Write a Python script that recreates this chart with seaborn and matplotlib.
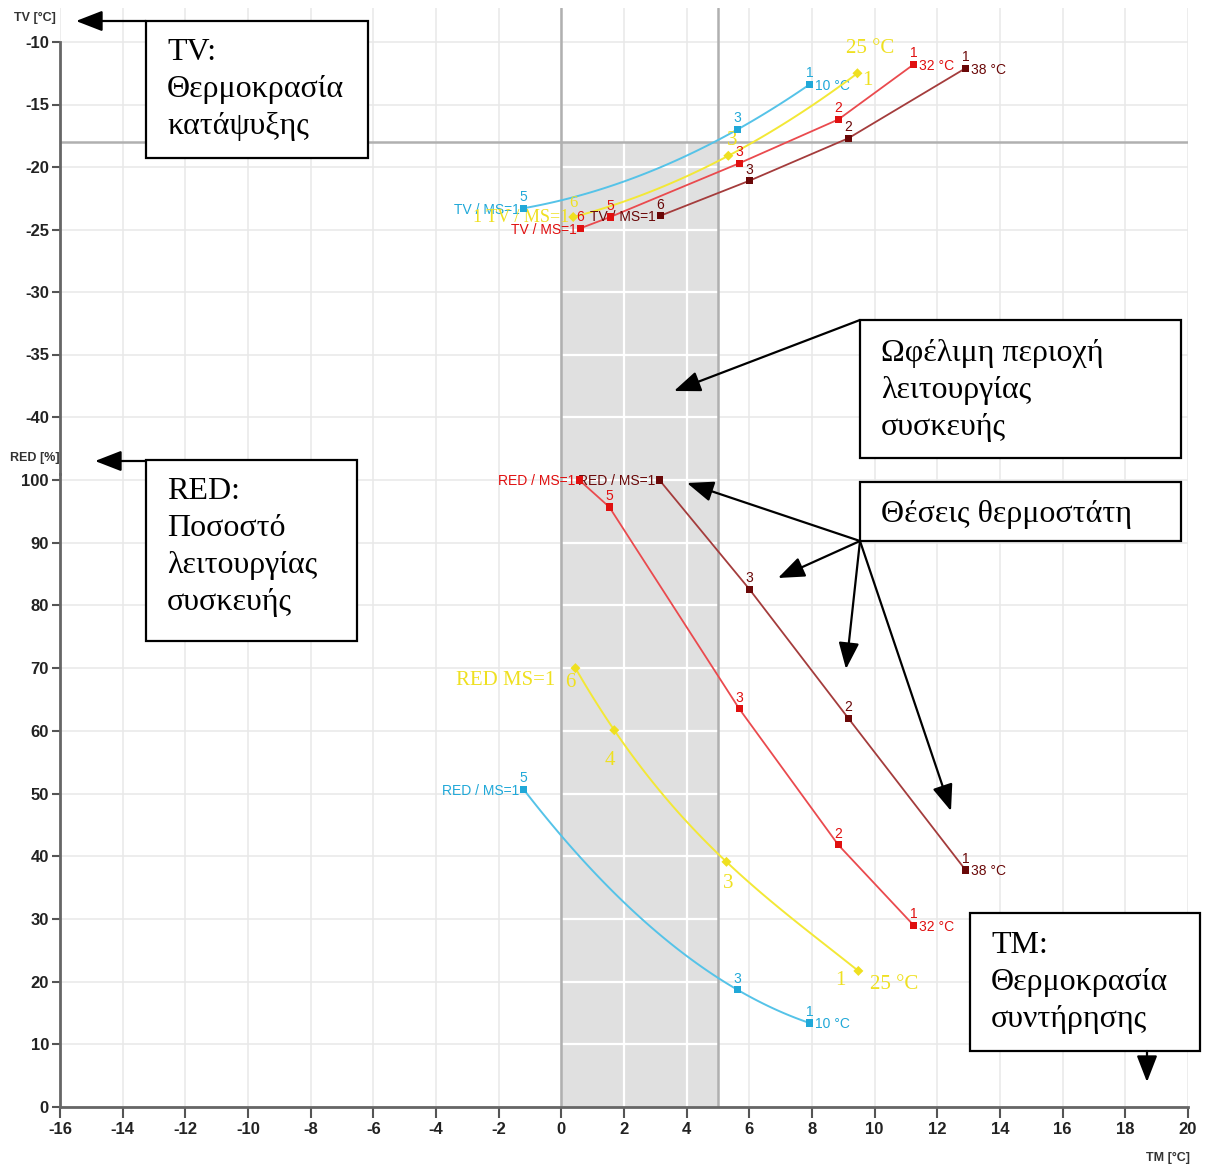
import numpy as np
import pandas as pd
import matplotlib
matplotlib.use("Agg")
import matplotlib.pyplot as plt
import seaborn as sns
from matplotlib.patches import Rectangle, FancyArrowPatch

# ---- data ----
# TM [°C] of each thermostat position, TV [°C] and RED [%] per ambient temperature
pos_10 = ["5", "3", "1"]
tm_tv_10 = [-1.21, 5.62, 7.92]
tv_10 = [-23.3, -17.0, -13.4]
tm_red_10 = [-1.21, 5.62, 7.92]
red_10 = [50.7, 18.7, 13.4]

pos_25_tv = ["6", "3", "1"]
tm_tv_25 = [0.38, 5.33, 9.45]
tv_25 = [-24.0, -19.1, -12.5]
pos_25_red = ["6", "4", "3", "1"]
tm_red_25 = [0.45, 1.69, 5.27, 9.48]
red_25 = [70.0, 60.1, 39.1, 21.7]

pos_32 = ["6", "5", "3", "2", "1"]
tm_tv_32 = [0.61, 1.56, 5.68, 8.84, 11.24]
tv_32 = [-24.9, -24.0, -19.7, -16.2, -11.8]
tm_red_32 = [0.57, 1.53, 5.68, 8.84, 11.24]
red_32 = [100.0, 95.7, 63.5, 41.8, 29.0]

pos_38 = ["6", "3", "2", "1"]
tm_tv_38 = [3.16, 6.0, 9.16, 12.9]
tv_38 = [-23.9, -21.1, -17.7, -12.1]
tm_red_38 = [3.13, 6.0, 9.16, 12.9]
red_38 = [100.0, 82.6, 62.0, 37.8]

x_ticks = list(range(-16, 21, 2))
tv_ticks = [-40, -35, -30, -25, -20, -15, -10]
red_ticks = list(range(0, 101, 10))
tm_band = (0, 5)       # useful operating region
tv_limit = -18

sns.set_style("white")
plt.rcParams["font.family"] = ["Liberation Sans", "DejaVu Sans"]
plt.rcParams["axes.unicode_minus"] = False

W, H = 1206, 1167
def fp(x, y):
    return x / W, 1 - y / H

fig = plt.figure(figsize=(W / 100, H / 100), dpi=100)
ax_red = fig.add_axes([60 / W, 1 - 1107 / H, 1128 / W, 633 / H])
ax_tv = fig.add_axes([60 / W, 1 - 474 / H, 1128 / W, 466 / H], sharex=ax_red)
ax_tv.patch.set_alpha(0)

red_lim = (0, 100.96)
tv_lim = (-44.56, -7.28)
ax_red.set_xlim(-16, 20)
ax_red.set_ylim(*red_lim)
ax_tv.set_ylim(*tv_lim)

grid_c = "#e8e8e8"
band_c = "#e0e0e0"
edge_c = "#b0b0b0"
for ax, yt, lo, hi in [(ax_red, red_ticks, red_lim[0], red_lim[1]),
                       (ax_tv, tv_ticks, tv_lim[0], tv_limit)]:
    ax.set_yticks(yt)
    ax.set_xticks(x_ticks)
    ax.set_axisbelow(True)
    ax.grid(True, color=grid_c, lw=1.1)
    ax.add_patch(Rectangle((tm_band[0], lo), tm_band[1] - tm_band[0], hi - lo,
                           color=band_c, lw=0, zorder=0.6))
    for xt in x_ticks:
        if tm_band[0] < xt < tm_band[1]:
            ax.vlines(xt, lo, hi, color="white", lw=1.6, zorder=0.7)
    for v in yt:
        if lo < v < hi:
            ax.hlines(v, tm_band[0], tm_band[1], color="white", lw=1.6, zorder=0.7)
    for xb in tm_band:
        ax.axvline(xb, color=edge_c, lw=1.8, zorder=0.8)
    for s in ["top", "right"]:
        ax.spines[s].set_visible(False)
    ax.spines["left"].set_color("#666666")
    ax.spines["left"].set_linewidth(2)
    ax.tick_params(axis="y", direction="out", length=6, width=1.5, color="#555555",
                   labelsize=12, labelcolor="#222222", pad=2, left=True)
ax_tv.axhline(tv_limit, color=edge_c, lw=1.8, zorder=0.8)
ax_tv.spines["bottom"].set_visible(False)
ax_tv.spines["left"].set_bounds(tv_lim[0], -10)
ax_tv.tick_params(axis="x", bottom=False, labelbottom=False)
ax_red.spines["bottom"].set_color("#666666")
ax_red.spines["bottom"].set_linewidth(2)
ax_red.tick_params(axis="x", direction="out", length=8, width=1.5, color="#555555",
                   labelsize=12, labelcolor="#222222", pad=3, bottom=True)
for ax in (ax_red, ax_tv):
    for lbl in ax.get_xticklabels() + ax.get_yticklabels():
        lbl.set_fontweight("bold")

# ---- curves ----
series = [
    # name, line colour, marker colour, marker, smooth order, tv data, red data
    ("10 °C", "#55c3e8", "#20a8d8", "s", 2, (tm_tv_10, tv_10, pos_10), (tm_red_10, red_10, pos_10)),
    ("25 °C", "#f3e836", "#efe020", "D", 2, (tm_tv_25, tv_25, pos_25_tv), (tm_red_25, red_25, pos_25_red)),
    ("32 °C", "#ea4a4e", "#e01010", "s", 0, (tm_tv_32, tv_32, pos_32), (tm_red_32, red_32, pos_32)),
    ("38 °C", "#a43c3c", "#6a0808", "s", 0, (tm_tv_38, tv_38, pos_38), (tm_red_38, red_38, pos_38)),
]

small = dict(fontsize=10, family=["Liberation Sans", "DejaVu Sans"])
serif = dict(fontsize=15, family=["Liberation Serif", "DejaVu Serif"])
k = 72 / 100  # px -> points

for name, lc, mc, mk, order, tvd, redd in series:
    for ax, (tm, val, pos), first in [(ax_tv, tvd, "TV / MS=1"), (ax_red, redd, "RED / MS=1")]:
        df = pd.DataFrame({"TM": tm, "val": val, "pos": pos})
        if order:
            o = min(order + (1 if len(tm) > 3 else 0), len(tm) - 1)
            sns.regplot(data=df, x="TM", y="val", order=o, ci=None, scatter=False,
                        truncate=True, ax=ax, line_kws=dict(color=lc, lw=1.4, zorder=3))
        else:
            sns.lineplot(data=df, x="TM", y="val", sort=False, estimator=None,
                         color=lc, lw=1.3, ax=ax, zorder=3)
        sns.scatterplot(data=df, x="TM", y="val", marker=mk, s=26, color=mc,
                        edgecolor="none", ax=ax, zorder=4)
        ax.set_xlabel("")
        ax.set_ylabel("")
        if name == "25 °C":
            continue
        for x, y, p in zip(df.TM, df.val, df.pos):
            ax.annotate(p, (x, y), xytext=(0, 3), textcoords="offset points",
                        ha="center", va="bottom", color=mc, **small)
        ax.annotate(first, (tm[0], val[0]), xytext=(-3, -1), textcoords="offset points",
                    ha="right", va="center", color=mc, **small)
        ax.annotate(name, (tm[-1], val[-1]), xytext=(4, -1), textcoords="offset points",
                    ha="left", va="center", color=mc, **small)

# yellow (25 °C) labels, drawn in a serif face
yc = "#efe020"
for x, y, p, off in zip(tm_red_25, red_25, pos_25_red, [(-5, -14), (-4, -30), (2, -22), (-18, -10)]):
    ax_red.annotate(p, (x, y), xytext=(off[0] * k, off[1] * k), textcoords="offset points",
                    ha="center", va="center", color=yc, **serif)
ax_red.annotate("RED MS=1", (tm_red_25[0], red_25[0]), xytext=(-20 * k, -12 * k),
                textcoords="offset points", ha="right", va="center", color=yc, **serif)
ax_red.annotate("25 °C", (tm_red_25[-1], red_25[-1]), xytext=(12 * k, -14 * k),
                textcoords="offset points", ha="left", va="center", color=yc, **serif)
ax_tv.annotate("25 °C", (tm_tv_25[-1], tv_25[-1]), xytext=(13 * k, 25 * k),
               textcoords="offset points", ha="center", va="center", color=yc, **serif)
ax_tv.annotate(pos_25_tv[-1], (tm_tv_25[-1], tv_25[-1]), xytext=(10 * k, -7 * k),
               textcoords="offset points", ha="center", va="center", color=yc, **serif)
ax_tv.annotate(pos_25_tv[1], (tm_tv_25[1], tv_25[1]), xytext=(4 * k, 15 * k),
               textcoords="offset points", ha="center", va="center", color=yc, **serif)
ax_tv.annotate(pos_25_tv[0], (tm_tv_25[0], tv_25[0]), xytext=(0, 14 * k),
               textcoords="offset points", ha="center", va="center", color=yc, fontsize=12,
               family=serif["family"])
ax_tv.annotate("1 TV / MS=1", (tm_tv_25[0], tv_25[0]), xytext=(-4 * k, -1 * k),
               textcoords="offset points", ha="right", va="center", color=yc, fontsize=13,
               family=serif["family"])

# axis captions
cap = dict(fontsize=9, fontweight="bold", color="#333333", ha="right", va="center")
fig.text(*fp(56, 18), "TV [°C]", **cap)
fig.text(*fp(60, 458), "RED [%]", **cap)
fig.text(*fp(1190, 1158), "TM [°C]", **cap)

# ---- explanatory boxes ----
box_font = dict(fontsize=23, family=["Liberation Serif", "DejaVu Serif"], color="black",
                ha="left", va="top", linespacing=1.36)
boxes = [
    ((146, 21, 368, 158), (167, 38), "TV:\nΘερμοκρασία\nκατάψυξης"),
    ((146, 460, 357, 641), (167, 477), "RED:\nΠοσοστό\nλειτουργίας\nσυσκευής"),
    ((860, 320, 1181, 458), (881, 339), "Ωφέλιμη περιοχή\nλειτουργίας\nσυσκευής"),
    ((860, 482, 1181, 541), (881, 500), "Θέσεις θερμοστάτη"),
    ((970, 913, 1200, 1051), (991, 931), "TM:\nΘερμοκρασία\nσυντήρησης"),
]
for (x0, y0, x1, y1), (tx, ty), txt in boxes:
    fig.add_artist(Rectangle(fp(x0, y1), (x1 - x0) / W, (y1 - y0) / H,
                             transform=fig.transFigure, facecolor="white",
                             edgecolor="black", lw=1.6, zorder=5))
    fig.text(*fp(tx, ty), txt, zorder=6, **box_font)

for tail, head in [((146, 21), (76, 21)), ((146, 461), (95, 461)),
                   ((860, 320), (674, 391)), ((1147, 1051), (1147, 1082)),
                   ((860, 541), (687, 483)), ((860, 541), (778, 578)),
                   ((860, 541), (846, 669)), ((860, 541), (951, 811))]:
    fig.add_artist(FancyArrowPatch(fp(*tail), fp(*head), transform=fig.transFigure,
                                   arrowstyle="-|>,head_length=0.9,head_width=0.35",
                                   mutation_scale=18, color="black", lw=1.6,
                                   shrinkA=0, shrinkB=0, zorder=7))

fig.savefig("out.png", dpi=100)
